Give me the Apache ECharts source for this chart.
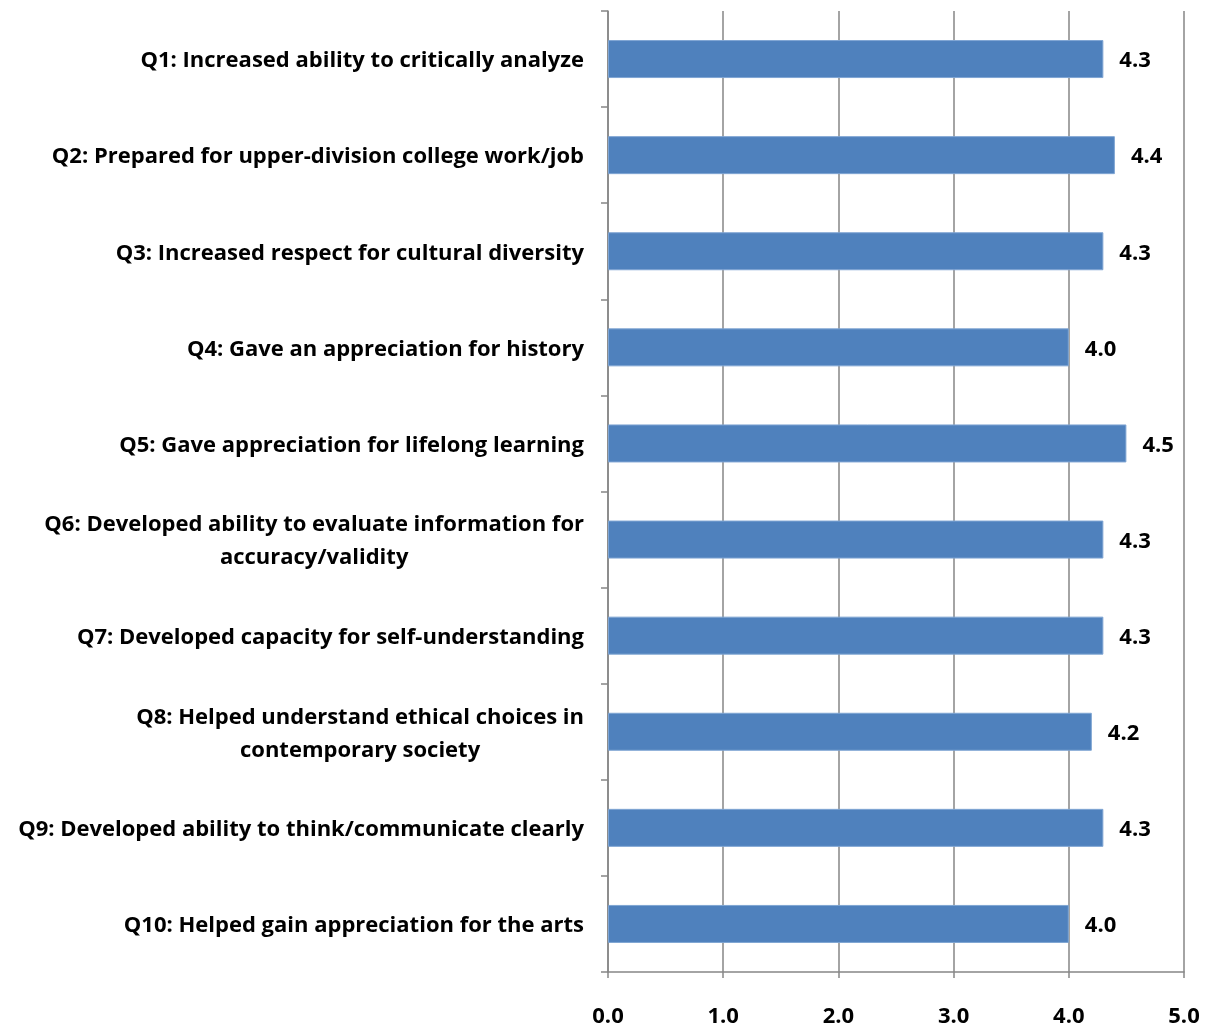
<!DOCTYPE html>
<html>
<head>
<meta charset="utf-8">
<script src="https://cdn.jsdelivr.net/npm/echarts@6/dist/echarts.min.js"></script>
<style>html,body{margin:0;padding:0;background:#fff}#c{width:1205px;height:1028px}</style>
</head>
<body>
<div id="c"></div>
<script>
const categories = [
  "Q1: Increased ability to critically analyze",
  "Q2: Prepared for upper-division college work/job",
  "Q3: Increased respect for cultural diversity",
  "Q4: Gave an appreciation for history",
  "Q5: Gave appreciation for lifelong learning",
  "Q6: Developed ability to evaluate information for\naccuracy/validity",
  "Q7: Developed capacity for self-understanding",
  "Q8: Helped understand ethical choices in\ncontemporary society",
  "Q9: Developed ability to think/communicate clearly",
  "Q10: Helped gain appreciation for the arts"
];
const values = [4.3, 4.4, 4.3, 4.0, 4.5, 4.3, 4.3, 4.2, 4.3, 4.0];
const xTicks = [0, 1, 2, 3, 4, 5];

const FONT = "Open Sans";
const FS = 22;
const chart = echarts.init(document.getElementById('c'), null, {renderer: 'canvas'});
chart.setOption({
  animation: false,
  backgroundColor: '#ffffff',
  grid: {left: 608, right: 21, top: 11, bottom: 56, containLabel: false},
  xAxis: {
    type: 'value', min: xTicks[0], max: xTicks[xTicks.length - 1], interval: 1,
    axisLine: {show: true, lineStyle: {color: '#868686', width: 1.5}},
    axisTick: {show: true, length: 6, lineStyle: {color: '#868686', width: 1.5}},
    splitLine: {show: true, lineStyle: {color: '#868686', width: 1.5}},
    axisLabel: {
      margin: 34, color: '#000', fontFamily: FONT, fontWeight: 'bold', fontSize: FS,
      formatter: v => v.toFixed(1)
    }
  },
  yAxis: {
    type: 'category', data: categories, inverse: true,
    axisLine: {show: true, lineStyle: {color: '#868686', width: 1.5}},
    axisTick: {show: true, length: 7, lineStyle: {color: '#868686', width: 1.5}},
    splitLine: {show: false},
    axisLabel: {
      margin: 24, color: '#000', fontFamily: FONT, fontWeight: 'bold', fontSize: FS,
      padding: [4, 0, 0, 0],
      formatter: v => v.split('\n').map(s => '{a|' + s + '}').join('\n'),
      rich: {a: {align: 'center', fontFamily: FONT, fontWeight: 'bold', fontSize: FS, lineHeight: 33, color: '#000'}}
    }
  },
  series: [{
    type: 'bar', data: values, barWidth: 38,
    itemStyle: {color: '#4F81BD', borderColor: '#7FA5D3', borderWidth: 1},
    label: {
      show: true, position: 'right', distance: 16, offset: [0, 2], color: '#000',
      fontFamily: FONT, fontWeight: 'bold', fontSize: FS,
      formatter: p => p.value.toFixed(1)
    }
  }]
});
</script>
</body>
</html>
